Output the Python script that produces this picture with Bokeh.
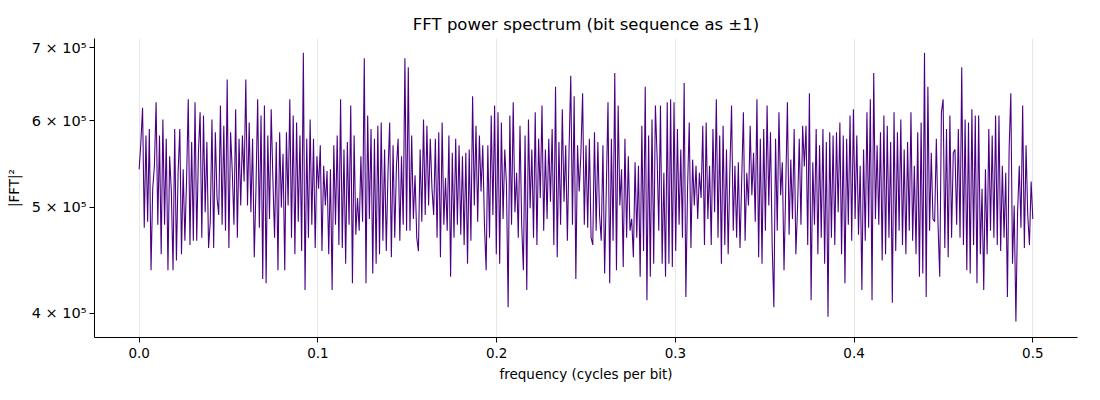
import numpy as np
from bokeh.plotting import figure
from bokeh.models import Range1d, FixedTicker, ColumnDataSource
from bokeh.embed import file_html
from bokeh.resources import INLINE

title_text = "FFT power spectrum (bit sequence as ±1)"
x_label = "frequency (cycles per bit)"
y_label = "|FFT|²"

x_ticks = [0.0, 0.1, 0.2, 0.3, 0.4, 0.5]
x_tick_labels = ["0.0", "0.1", "0.2", "0.3", "0.4", "0.5"]
y_ticks = [400000, 500000, 600000, 700000]
y_tick_labels = ["4 × 10⁵", "5 × 10⁵", "6 × 10⁵", "7 × 10⁵"]

freq_start = 0.0
freq_stop = 0.5

# |FFT|^2 values, in thousands, left to right
power_k = [
    542, 574, 617, 479, 582, 485, 590, 438, 520, 546, 624, 482, 582, 453, 602,
    482, 578, 438, 557, 517, 438, 590, 447, 538, 590, 453, 542, 466, 530, 628,
    462, 574, 466, 624, 466, 561, 611, 469, 607, 495, 574, 459,
    485, 602, 459, 586, 510, 492, 620, 482, 594, 476, 655, 459, 586, 540, 482,
    615, 469, 578, 502, 582, 528, 655, 502, 598, 495, 578, 450, 520, 628, 479,
    607, 430, 620, 426, 582, 488, 615, 530, 469, 574, 438, 586, 500, 560,
    438, 586, 502, 628, 469, 607, 453, 598, 485, 582, 456, 693, 420, 578, 469,
    602, 482, 578, 459, 557, 520, 570, 456, 546, 502, 540, 453, 542, 420, 570,
    482, 582, 462, 628, 459, 565, 444, 574, 482, 620, 426, 582, 472, 510,
    476, 557, 485, 685, 426, 607, 488, 590, 435, 578, 444, 594, 453, 598, 466,
    565, 456, 538, 598, 450, 570, 469, 546, 578, 466, 557, 482, 685, 476, 672,
    476, 582, 488, 535, 469, 456, 565, 485, 602, 492, 594, 502, 578, 520,
    492, 578, 469, 586, 450, 598, 482, 532, 476, 582, 432, 561, 469, 578, 482,
    570, 472, 557, 462, 561, 444, 565, 466, 632, 502, 594, 485, 582, 517, 570,
    482, 438, 570, 469, 607, 492, 620, 453, 611, 444, 598, 488, 565, 525,
    405, 607, 482, 624, 495, 538, 469, 594, 482, 438, 582, 420, 602, 499, 565,
    469, 611, 462, 578, 510, 620, 476, 565, 488, 578, 506, 590, 462, 645, 450,
    574, 482, 615, 506, 570, 466, 565, 660, 482, 632, 430, 570, 517, 561,
    636, 482, 570, 479, 578, 469, 462, 586, 476, 574, 492, 466, 570, 435, 520,
    624, 426, 578, 466, 664, 438, 620, 502, 542, 441, 578, 469, 557, 476, 488,
    450, 550, 469, 546, 432, 594, 456, 645, 411, 582, 432, 602, 444, 620,
    557, 476, 620, 444, 538, 432, 624, 444, 628, 441, 624, 456, 590, 482, 565,
    469, 650, 414, 520, 598, 459, 553, 502, 546, 488, 538, 510, 594, 462, 598,
    488, 546, 462, 590, 495, 628, 469, 582, 444, 594, 462, 565, 453, 540,
    620, 476, 546, 469, 550, 459, 530, 611, 466, 538, 502, 594, 513, 561, 485,
    628, 450, 578, 444, 590, 476, 620, 502, 586, 462, 405, 578, 476, 611, 513,
    550, 438, 520, 624, 472, 553, 488, 590, 453, 500, 578, 482, 594, 545,
    594, 462, 636, 411, 550, 482, 590, 453, 570, 469, 590, 444, 574, 397, 586,
    469, 582, 462, 586, 495, 598, 453, 582, 426, 578, 482, 607, 466, 615, 488,
    582, 472, 546, 420, 565, 466, 611, 479, 628, 411, 664, 488, 570, 482,
    586, 447, 607, 453, 594, 469, 574, 409, 611, 456, 586, 476, 602, 462, 565,
    453, 574, 476, 611, 466, 546, 453, 586, 432, 598, 435, 693, 414, 645, 476,
    561, 488, 485, 578, 482, 432, 611, 628, 459, 590, 450, 607, 469, 561,
    565, 482, 590, 469, 672, 462, 602, 438, 598, 435, 615, 462, 607, 426, 607,
    453, 520, 420, 542, 453, 590, 476, 582, 469, 607, 462, 607, 456, 546, 469,
    538, 414, 565, 636, 444, 502, 393, 495, 546, 479, 620, 459, 570, 492, 462,
    528, 488,
]

power = [v * 1000 for v in power_k]
freq = np.linspace(freq_start, freq_stop, len(power))

src = ColumnDataSource(data=dict(f=freq, p=power))

FONT = "DejaVu Sans"

p = figure(
    width=1084, height=384,
    y_axis_type="log",
    x_range=Range1d(-0.025, 0.525),
    y_range=Range1d(380000, 714000),
    output_backend="svg", toolbar_location=None,
    title=title_text,
    min_border_left=94, min_border_right=7, min_border_top=38, min_border_bottom=43,
)

p.line("f", "p", source=src, line_color="#4B0082", line_width=1.1)

p.title.align = "center"
p.title.text_font = FONT
p.title.text_font_size = "16.5px"
p.title.text_font_style = "normal"
p.title.text_color = "black"
p.title.offset = 0

p.outline_line_color = None
p.background_fill_color = "white"
p.border_fill_color = "white"

p.xaxis.ticker = FixedTicker(ticks=x_ticks, minor_ticks=[])
p.xaxis.major_label_overrides = {t: l for t, l in zip(x_ticks, x_tick_labels)}
p.yaxis.ticker = FixedTicker(ticks=y_ticks, minor_ticks=[])
p.yaxis.major_label_overrides = {t: l for t, l in zip(y_ticks, y_tick_labels)}

p.xaxis.axis_label = x_label
p.yaxis.axis_label = y_label

for ax in (p.xaxis, p.yaxis):
    ax.axis_label_text_font = FONT
    ax.axis_label_text_font_size = "13.5px"
    ax.axis_label_text_font_style = "normal"
    ax.axis_label_text_color = "black"
    ax.major_label_text_font = FONT
    ax.major_label_text_font_size = "13.5px"
    ax.major_label_text_color = "black"
    ax.axis_line_color = "black"
    ax.axis_line_width = 1
    ax.major_tick_line_color = "black"
    ax.major_tick_out = 5
    ax.major_tick_in = 0
    ax.minor_tick_out = 0
    ax.minor_tick_in = 0

p.xaxis.axis_label_standoff = 5
p.yaxis.axis_label_standoff = 7
p.xaxis.major_label_standoff = 5
p.yaxis.major_label_standoff = 3
p.yaxis.major_label_text_font_size = "14.5px"

p.xgrid.ticker = FixedTicker(ticks=x_ticks)
p.xgrid.grid_line_color = "#b0b0b0"
p.xgrid.grid_line_alpha = 0.3
p.xgrid.grid_line_width = 1
p.ygrid.grid_line_color = None

open("out.html", "w").write(file_html(p, INLINE))
